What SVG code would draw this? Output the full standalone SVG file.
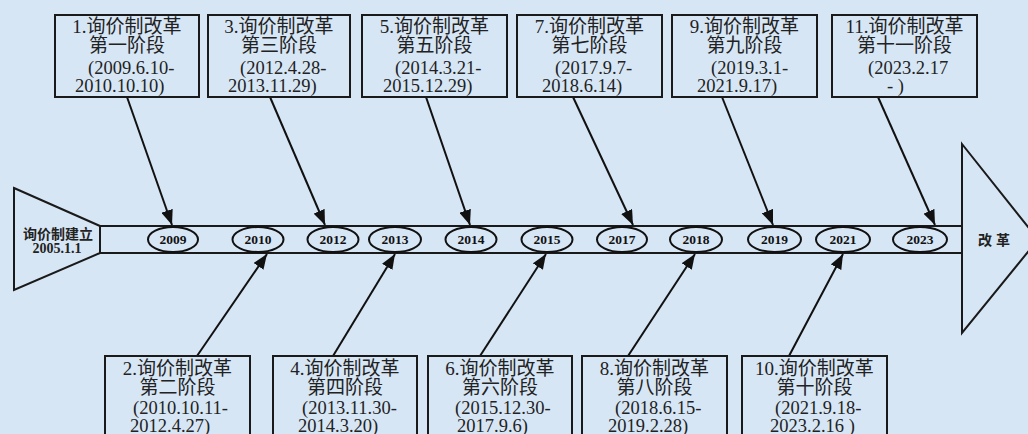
<svg xmlns="http://www.w3.org/2000/svg" width="1028" height="434" viewBox="0 0 1028 434">
<style>
.bg{fill:#d7e6f5}
.box{fill:none;stroke:#1a1a1a;stroke-width:2}
.shape{fill:none;stroke:#1a1a1a;stroke-width:2}
.ell{fill:#d7e6f5;stroke:#111;stroke-width:2}
.t{font-family:"Liberation Serif","Noto Sans CJK SC",serif;font-size:19px;fill:#222}
.d{font-size:18.5px}
.c{text-anchor:middle}
.yr{font-family:"Liberation Serif",serif;font-size:13.5px;font-weight:bold;text-anchor:middle;fill:#111}
.lbl{font-family:"Liberation Serif","Noto Sans CJK SC",sans-serif;font-size:14px;font-weight:bold;text-anchor:middle;fill:#222}
.con{stroke:#111;stroke-width:2;fill:none;marker-end:url(#ah)}
</style>
<defs>
<marker id="ah" markerUnits="userSpaceOnUse" markerWidth="16" markerHeight="12" refX="15" refY="6" orient="auto">
<path d="M0,0 L15,6 L0,12 Z" fill="#111"/>
</marker>
</defs>
<rect class="bg" x="0" y="0" width="1028" height="434"/>

<g id="spine">
<path class="shape" d="M14,188 L100,226 L100,253 L14,290 Z"/>
<line class="shape" x1="100" y1="226" x2="962" y2="226"/>
<line class="shape" x1="100" y1="253" x2="962" y2="253"/>
<path class="shape" d="M962,144 L1038,239.5 L962,333 Z"/>
<text class="lbl" x="58" y="239">询价制建立</text>
<text class="lbl" x="57" y="253">2005.1.1</text>
<text class="lbl" x="996" y="245" style="letter-spacing:4px">改革</text>
</g>

<g id="years">
<g id="y2009"><ellipse class="ell" cx="173" cy="239.5" rx="25" ry="12.5"/><text class="yr" x="173" y="244">2009</text></g>
<g id="y2010"><ellipse class="ell" cx="258" cy="239.5" rx="25.5" ry="12.5"/><text class="yr" x="258" y="244">2010</text></g>
<g id="y2012"><ellipse class="ell" cx="333" cy="239.5" rx="25.5" ry="12.5"/><text class="yr" x="333" y="244">2012</text></g>
<g id="y2013"><ellipse class="ell" cx="395" cy="239.5" rx="26" ry="12.5"/><text class="yr" x="395" y="244">2013</text></g>
<g id="y2014"><ellipse class="ell" cx="471" cy="239.5" rx="25.5" ry="12.5"/><text class="yr" x="471" y="244">2014</text></g>
<g id="y2015"><ellipse class="ell" cx="547" cy="239.5" rx="25.5" ry="12.5"/><text class="yr" x="547" y="244">2015</text></g>
<g id="y2017"><ellipse class="ell" cx="622" cy="239.5" rx="25" ry="12.5"/><text class="yr" x="622" y="244">2017</text></g>
<g id="y2018"><ellipse class="ell" cx="696" cy="239.5" rx="26" ry="12.5"/><text class="yr" x="696" y="244">2018</text></g>
<g id="y2019"><ellipse class="ell" cx="774.5" cy="239.5" rx="26.5" ry="12.5"/><text class="yr" x="774.5" y="244">2019</text></g>
<g id="y2021"><ellipse class="ell" cx="843" cy="239.5" rx="27" ry="12.5"/><text class="yr" x="843" y="244">2021</text></g>
<g id="y2023"><ellipse class="ell" cx="920" cy="239.5" rx="27" ry="12.5"/><text class="yr" x="920" y="244">2023</text></g>
</g>

<g id="connectors">
<line class="con" x1="127" y1="97" x2="172" y2="225"/>
<line class="con" x1="270" y1="97" x2="325" y2="225"/>
<line class="con" x1="426" y1="97" x2="470" y2="225"/>
<line class="con" x1="573" y1="97" x2="633" y2="225"/>
<line class="con" x1="722" y1="97" x2="773" y2="225"/>
<line class="con" x1="878" y1="97" x2="935" y2="225"/>
<line class="con" x1="197" y1="356" x2="267" y2="254"/>
<line class="con" x1="333" y1="356" x2="395" y2="254"/>
<line class="con" x1="480" y1="356" x2="546" y2="254"/>
<line class="con" x1="628" y1="356" x2="695" y2="254"/>
<line class="con" x1="789" y1="356" x2="843" y2="254"/>
</g>

<g id="stage1"><rect class="box" x="55" y="15" width="144" height="82"/>
<text class="t c" x="127" y="33">1.询价制改革</text><text class="t c" x="127" y="52">第一阶段</text>
<text class="t d" x="88" y="74">(2009.6.10-</text><text class="t d" x="75" y="92">2010.10.10)</text></g>
<g id="stage3"><rect class="box" x="208" y="15" width="142" height="82"/>
<text class="t c" x="279" y="33">3.询价制改革</text><text class="t c" x="279" y="52">第三阶段</text>
<text class="t d" x="240" y="74">(2012.4.28-</text><text class="t d" x="228" y="92">2013.11.29)</text></g>
<g id="stage5"><rect class="box" x="362" y="15" width="145" height="82"/>
<text class="t c" x="434.5" y="33">5.询价制改革</text><text class="t c" x="434.5" y="52">第五阶段</text>
<text class="t d" x="395" y="74">(2014.3.21-</text><text class="t d" x="383" y="92">2015.12.29)</text></g>
<g id="stage7"><rect class="box" x="517" y="15" width="145" height="82"/>
<text class="t c" x="589.5" y="33">7.询价制改革</text><text class="t c" x="589.5" y="52">第七阶段</text>
<text class="t d" x="555" y="74">(2017.9.7-</text><text class="t d" x="542" y="92">2018.6.14)</text></g>
<g id="stage9"><rect class="box" x="672" y="15" width="145" height="82"/>
<text class="t c" x="744.5" y="33">9.询价制改革</text><text class="t c" x="744.5" y="52">第九阶段</text>
<text class="t d" x="711" y="74">(2019.3.1-</text><text class="t d" x="697" y="92">2021.9.17)</text></g>
<g id="stage11"><rect class="box" x="832" y="15" width="145" height="82"/>
<text class="t c" x="904.5" y="33">11.询价制改革</text><text class="t c" x="904.5" y="52">第十一阶段</text>
<text class="t d" x="868" y="74">(2023.2.17</text><text class="t d" x="887" y="92">-  )</text></g>

<g id="stage2"><rect class="box" x="105" y="356" width="145" height="90"/>
<text class="t c" x="177.5" y="375">2.询价制改革</text><text class="t c" x="177.5" y="394">第二阶段</text>
<text class="t d" x="133" y="414">(2010.10.11-</text><text class="t d" x="130" y="432">2012.4.27)</text></g>
<g id="stage4"><rect class="box" x="273" y="356" width="144" height="90"/>
<text class="t c" x="345" y="375">4.询价制改革</text><text class="t c" x="345" y="394">第四阶段</text>
<text class="t d" x="302" y="414">(2013.11.30-</text><text class="t d" x="298" y="432">2014.3.20)</text></g>
<g id="stage6"><rect class="box" x="428" y="356" width="144" height="90"/>
<text class="t c" x="500" y="375">6.询价制改革</text><text class="t c" x="500" y="394">第六阶段</text>
<text class="t d" x="455" y="414">(2015.12.30-</text><text class="t d" x="457" y="432">2017.9.6)</text></g>
<g id="stage8"><rect class="box" x="582" y="356" width="145" height="90"/>
<text class="t c" x="654.5" y="375">8.询价制改革</text><text class="t c" x="654.5" y="394">第八阶段</text>
<text class="t d" x="615" y="414">(2018.6.15-</text><text class="t d" x="608" y="432">2019.2.28)</text></g>
<g id="stage10"><rect class="box" x="742" y="356" width="145" height="90"/>
<text class="t c" x="814.5" y="375">10.询价制改革</text><text class="t c" x="814.5" y="394">第十阶段</text>
<text class="t d" x="775" y="414">(2021.9.18-</text><text class="t d" x="770" y="432">2023.2.16 )</text></g>
</svg>
